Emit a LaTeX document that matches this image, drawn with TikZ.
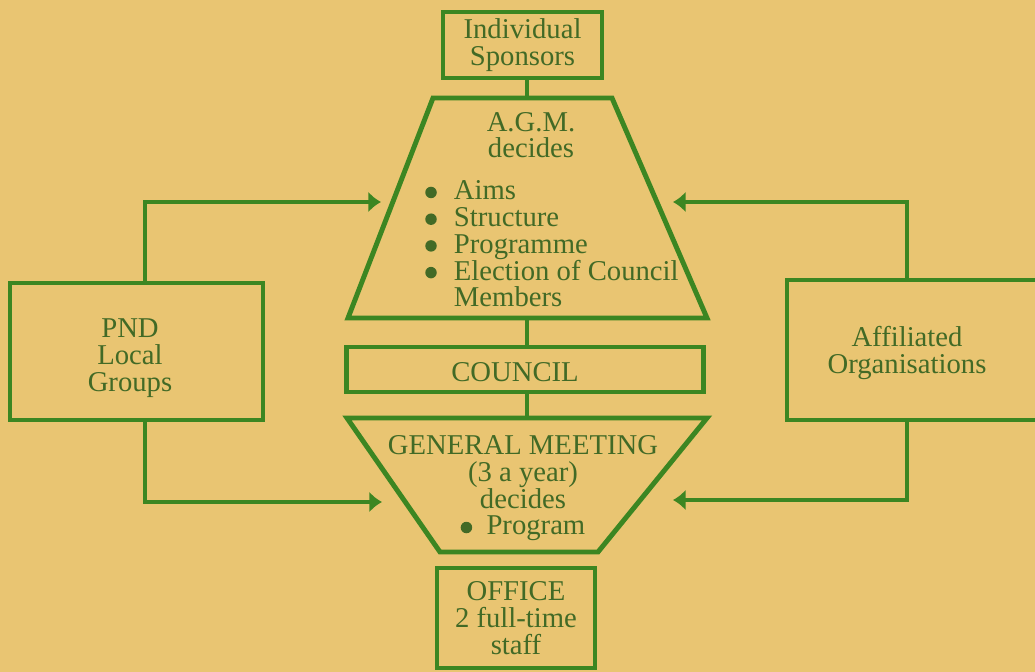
\documentclass[tikz,border=0pt]{standalone}
\usepackage{fontspec}
\setmainfont{Liberation Serif}
\usetikzlibrary{arrows.meta}
\definecolor{paper}{RGB}{233,197,114}
\definecolor{leaf}{RGB}{60,134,34}
\definecolor{ink}{RGB}{66,106,38}
\newcommand{\dotmark}{\tikz[baseline=0pt]\fill[ink] (0.2em,0.26em) circle (0.2em);}
\newcommand{\itm}{\makebox[1em][l]{\dotmark}}
\begin{document}
\begin{tikzpicture}
      [
      x=0.025cm, y=-0.025cm,
      font=\fontsize{20.4}{19}\selectfont,
      frame/.style={draw=leaf,line width=3.5pt},
      box/.style={frame,rectangle,inner sep=0pt,align=center,text=ink},
      words/.style={inner sep=0pt,align=center,text=ink},
      link/.style={draw=leaf,line width=3.5pt},
      feed/.style={link,-{Latex[length=9pt,width=15pt]}}
      ]
      \useasboundingbox (0,0) rectangle (1035,672);
      \fill [paper] (0,0) rectangle (1035,672);
      \clip (0,0) rectangle (1035,672);
      % boxes
      \node (sponsors) at (522.5,45) [box,minimum width=3.975cm,minimum height=1.65cm] {Individual\\Sponsors};
      \node (pnd) at (136.5,351.5) [box,minimum width=6.325cm,minimum height=3.425cm] {};
      \node (pndname) at (130,358) [words] {PND\\Local\\Groups};
      \node (aff) at (916,350) [box,minimum width=6.45cm,minimum height=3.5cm] {};
      \node (affname) at (907,353) [words] {Affiliated\\Organisations};
      \node (council) at (525,369.5) [box,minimum width=8.9cm,minimum height=1.125cm] {};
      \node (councilname) at (515,372) [words] {COUNCIL};
      \node (office) at (516,618) [box,minimum width=3.95cm,minimum height=2.5cm] {OFFICE\\2 full-time\\staff};
      % trapezia
      \draw [frame] (433,98) -- (612,98) -- (707,318) -- (348,318) -- cycle;
      \draw [frame] (347,418) -- (707,418) -- (598,552) -- (440,552) -- cycle;
      \node (agm) at (531,135) [words] {A.G.M.\\decides};
      \node (agmlist) at (425,244) [words,anchor=west,align=left] {\itm Aims\\\itm Structure\\\itm Programme\\\itm Election of Council\\\hspace*{1em}Members};
      \node (gm) at (523,488.5) [words] {GENERAL MEETING\\(3 a year)\\decides\\\dotmark\enspace Program};
      \coordinate (agmtop) at (527,98);
      \coordinate (agmfoot) at (527,318);
      \coordinate (gmtop) at (527,418);
      \coordinate (agmL) at (381,202);
      \coordinate (agmR) at (673,202);
      \coordinate (gmL) at (382,502);
      \coordinate (gmR) at (673,500);
      % spine
      \draw [link] (sponsors.south -| agmtop) -- (agmtop);
      \draw [link] (agmfoot) -- (agmfoot |- council.north);
      \draw [link] (council.south -| gmtop) -- (gmtop);
      % feeds
      \draw [feed] (145,0 |- pnd.north) |- (agmL);
      \draw [feed] (145,0 |- pnd.south) |- (gmL);
      \draw [feed] (907,0 |- aff.north) |- (agmR);
      \draw [feed] (907,0 |- aff.south) |- (gmR);
\end{tikzpicture}
\end{document}
